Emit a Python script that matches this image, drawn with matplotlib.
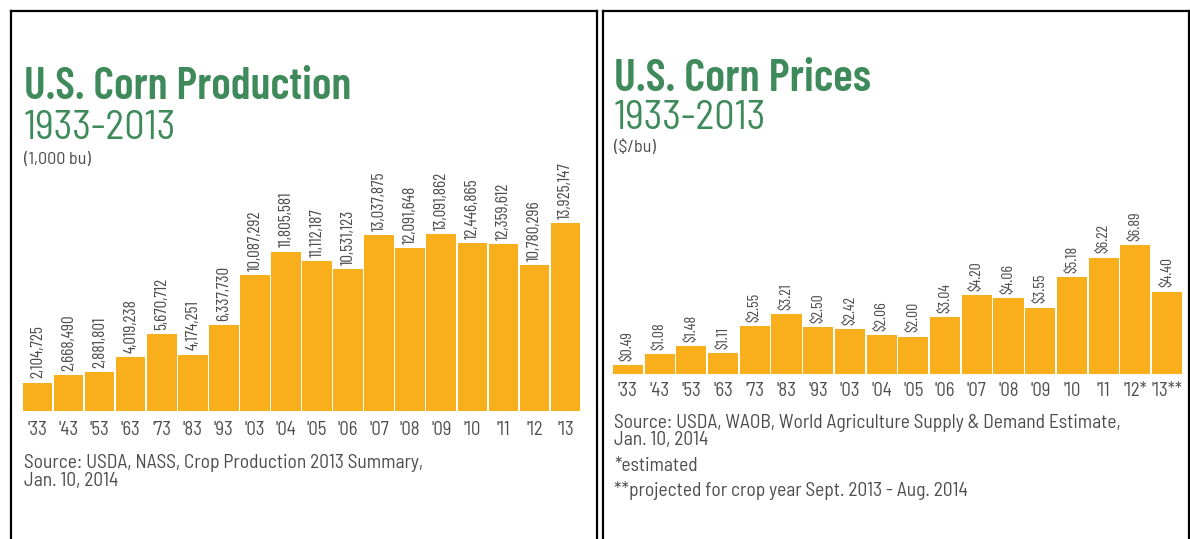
import matplotlib.pyplot as plt

# data
prod_years = ["'33", "'43", "'53", "'63", "'73", "'83", "'93", "'03", "'04", "'05",
              "'06", "'07", "'08", "'09", "'10", "'11", "'12", "'13"]
prod_values = [2104725, 2668490, 2881801, 4019238, 5670712, 4174251, 6337730,
               10087292, 11805581, 11112187, 10531123, 13037875, 12091648,
               13091862, 12446865, 12359612, 10780296, 13925147]

price_years = ["'33", "'43", "'53", "'63", "'73", "'83", "'93", "'03", "'04", "'05",
               "'06", "'07", "'08", "'09", "'10", "'11", "'12*", "'13**"]
price_values = [0.49, 1.08, 1.48, 1.11, 2.55, 3.21, 2.50, 2.42, 2.06, 2.00,
                3.04, 4.20, 4.06, 3.55, 5.18, 6.22, 6.89, 4.40]

BAR = '#F9AE1B'
GREEN = '#3F8A5B'
GRAY = '#4D4D4D'

plt.rcParams['font.family'] = ['Barlow Condensed', 'DejaVu Sans']
SEMI = ['Barlow Semi Condensed', 'DejaVu Sans']

W, H = 1190, 539
fig = plt.figure(figsize=(W / 100, H / 100), dpi=100)


def fx(x):
    return x / W


def fy(y):
    return 1 - y / H


def px_axes(x0, y_base, width, height):
    # y_base = baseline of bars, measured from top of image
    return fig.add_axes([x0 / W, (H - y_base) / H, width / W, height / H])


def note(x, y, s, size=14):
    fig.text(fx(x), fy(y), s, fontsize=size, color=GRAY, family=SEMI, va='baseline')


# frames
for x0, x1 in [(11, 597), (603, 1189)]:
    fig.add_artist(plt.Line2D([fx(x0), fx(x0)], [0, fy(11)], color='black', lw=1.6))
    fig.add_artist(plt.Line2D([fx(x1), fx(x1)], [0, fy(11)], color='black', lw=1.6))
    fig.add_artist(plt.Line2D([fx(x0), fx(x1)], [fy(11), fy(11)], color='black', lw=1.6))


def bar_panel(ax, values, labels, fmt, top, lsize, pad):
    x = range(len(values))
    ax.bar(x, values, width=0.95, color=BAR)
    ax.set_xlim(-0.5, len(values) - 0.5)
    ax.set_ylim(0, top)
    for i, v in enumerate(values):
        ax.annotate(fmt(v), (i, v), xytext=(0, 3), textcoords='offset points',
                    rotation=90, ha='center', va='bottom', fontsize=lsize, color=GRAY)
    ax.set_xticks(list(x))
    ax.set_xticklabels(labels, fontsize=13.5, color=GRAY, family=SEMI)
    ax.tick_params(length=0, pad=pad)
    ax.set_yticks([])
    for s in ax.spines.values():
        s.set_visible(False)


# ---- production ----
ax1 = px_axes(22, 411, 559, 300)
bar_panel(ax1, prod_values, prod_years, lambda v: f'{v:,}', 300 / (188 / 13925147), 12.5, 7)

fig.text(fx(24), fy(99), 'U.S. Corn Production', fontsize=32.5, fontweight='semibold', color=GREEN)
fig.text(fx(24), fy(139), '1933-2013', fontsize=29, family=SEMI, color=GREEN)
note(24, 164, '(1,000 bu)', 13)
note(24, 468, 'Source: USDA, NASS, Crop Production 2013 Summary,')
note(24, 486, 'Jan. 10, 2014')

# ---- prices ----
ax2 = px_axes(612, 374, 571, 250)
bar_panel(ax2, price_values, price_years, lambda v: f'${v:.2f}', 250 / (129 / 6.89), 11.5, 6)

fig.text(fx(614), fy(91), 'U.S. Corn Prices', fontsize=33, fontweight='semibold', color=GREEN)
fig.text(fx(614), fy(129), '1933-2013', fontsize=29, family=SEMI, color=GREEN)
note(614, 152, '($/bu)', 13)
note(614, 428, 'Source: USDA, WAOB, World Agriculture Supply & Demand Estimate,')
note(614, 445, 'Jan. 10, 2014')
note(614, 471, '*estimated')
note(614, 496, '**projected for crop year Sept. 2013 - Aug. 2014')

fig.savefig('out.png', dpi=100)
